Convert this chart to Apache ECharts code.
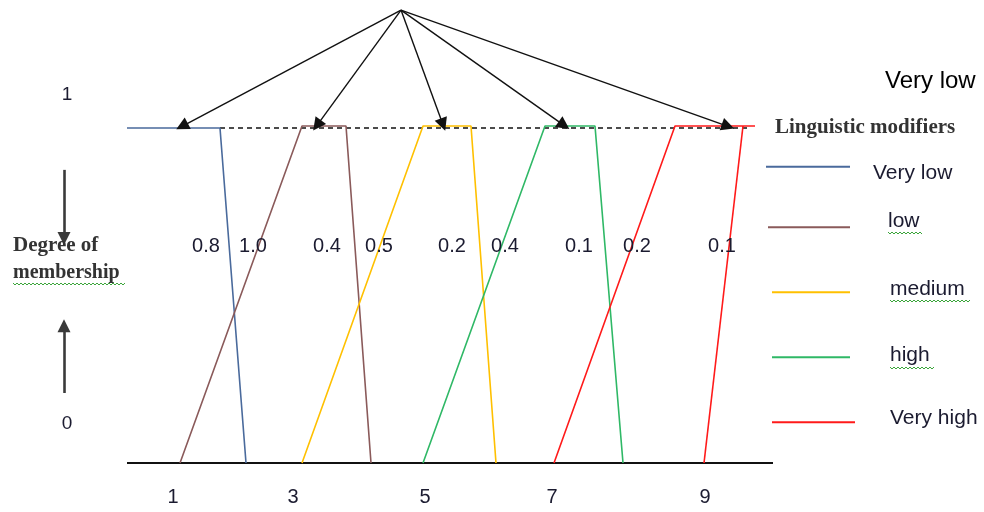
<!DOCTYPE html>
<html><head><meta charset="utf-8">
<script src="https://cdn.jsdelivr.net/npm/echarts@6/dist/echarts.min.js"></script>
<style>html,body{margin:0;padding:0;background:#fff}#c{width:984px;height:512px}</style>
</head><body><div id="c"></div>
<script>
// x: horizontal position along the universe of discourse (drawing units), y: degree of membership
const tickLabels = ['1','3','5','7','9'];
const tickX = [173,293,425,552,705];
const paramLabels = ['0.8','1.0','0.4','0.5','0.2','0.4','0.1','0.2','0.1'];
const paramX = [206,253,327,379,452,505,579,637,722];
const legendNames = ['Very low','low','medium','high','Very high'];
const veryLow = [[127,1],[220,1],[246,0]];
const low = [[180,0],[302,1.006],[346,1.006],[371,0]];
const medium = [[302,0],[423,1.006],[471,1.006],[496,0]];
const high = [[423,0],[545,1.006],[595,1.006],[623,0]];
const veryHigh = [[554,0],[675,1.006],[755,1.006]];
const veryHighRight = [[743,1.006],[704,0]];
const dashedTop = [[220,1],[748,1]];
const baseline = [[127,0],[773,0]];
const arrowOrigin = [401,1.352];
const arrowTips = [[182,1.005],[317,1.008],[443,1.01],[564,1.008],[728,1.005]];
const downArrow = [[64,0.875],[64,0.67]];
const upArrow = [[64,0.209],[64,0.41]];
const legendY = [0.884,0.704,0.510,0.316,0.122];
const legendX = [[766,850],[768,850],[772,850],[772,850],[772,855]];

const colors = ['#4a6a9c','#8a5a5a','#ffc000','#2fb866','#ff1a1a'];
const curves = [veryLow, low, medium, high, veryHigh];

const chart = echarts.init(document.getElementById('c'));
const lineS = (data, color, width, extra) => Object.assign({
  type:'line', data, showSymbol:false, symbol:'none', clip:false, silent:true,
  lineStyle:{color, width}, z:3
}, extra||{});

const series = [];
series.push(lineS(baseline,'#111',2));
series.push(lineS(dashedTop,'#111',1.3,{lineStyle:{color:'#111',width:1.3,type:[5,4]}}));
curves.forEach((c,i)=>series.push(lineS(c,colors[i],1.6)));
series.push(lineS(veryHighRight,colors[4],1.6));
legendY.forEach((y,i)=>series.push(lineS([[legendX[i][0],y],[legendX[i][1],y]],colors[i],2)));
series.push({
  type:'lines', coordinateSystem:'cartesian2d', clip:false, silent:true, z:5,
  symbol:['none','triangle'], symbolSize:[13,13],
  lineStyle:{color:'#111',width:1.4,curveness:0,opacity:1},
  data: arrowTips.map(t=>({coords:[arrowOrigin,t]}))
});
series.push({
  type:'lines', coordinateSystem:'cartesian2d', clip:false, silent:true, z:5,
  symbol:['none','triangle'], symbolSize:[13,13],
  lineStyle:{color:'#3a3a3a',width:2.6,curveness:0,opacity:1},
  data:[{coords:downArrow},{coords:upArrow}]
});
const labelSeries = (data, size) => ({
  type:'scatter', symbolSize:1, clip:false, silent:true, z:8,
  itemStyle:{opacity:0},
  data,
  label:{show:true,position:'inside',formatter:p=>p.name,color:'#1b1b30',opacity:1,fontSize:size,fontFamily:'Liberation Sans'}
});
series.push(labelSeries(tickLabels.map((t,i)=>({value:[tickX[i],-0.102],name:t})),20));
series.push(labelSeries(paramLabels.map((t,i)=>({value:[paramX[i],0.645],name:t})),20));

const txt = (x,y,text,font,align,color)=>({type:'text',x,y,silent:true,z:10,
  style:{text,x:0,y:0,fill:color||'#1b1b30',font,textAlign:align||'left',textVerticalAlign:'middle'}});
const legendTextPos = [[873,173],[888,221],[890,289],[890,355],[890,418]];
const graphics = [
  txt(67,95,'1','19px Liberation Sans','center'),
  txt(67,424,'0','19px Liberation Sans','center'),
  txt(13,246,'Degree of','bold 21px Liberation Serif','left','#333'),
  txt(13,273,'membership','bold 20px Liberation Serif','left','#333'),
  txt(885,81,'Very low','24px Liberation Sans','left','#000'),
  txt(775,128,'Linguistic modifiers','bold 21px Liberation Serif','left','#333')
];
legendNames.forEach((n,i)=>graphics.push(txt(legendTextPos[i][0],legendTextPos[i][1],n,'21px Liberation Sans','left','#1b1b30')));
// spell-check squiggles
const squig = [[13,125,284],[888,923,233],[890,970,301],[890,935,368]];
squig.forEach(s=>{
  const pts=[]; let up=true;
  for(let x=s[0];x<=s[1];x+=2){pts.push([x,s[2]+(up?-1:1)]);up=!up;}
  graphics.push({type:'polyline',silent:true,z:9,shape:{points:pts},style:{stroke:'#3aa53a',lineWidth:1,fill:null}});
});

chart.setOption({
  animation:false,
  grid:{left:0,right:0,top:128,bottom:49,containLabel:false},
  xAxis:{type:'value',min:0,max:984,show:false},
  yAxis:{type:'value',min:0,max:1,show:false},
  series,
  graphic:graphics
});
</script></body></html>
